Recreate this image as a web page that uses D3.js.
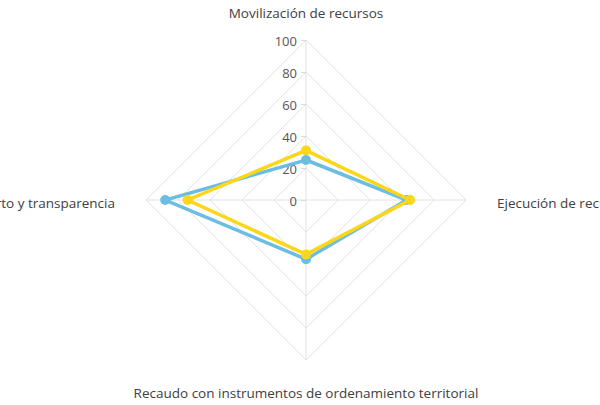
<!DOCTYPE html>
<html>
<head>
<meta charset="utf-8">
<script src="https://cdn.jsdelivr.net/npm/d3@7"></script>
<style>
  html, body { margin: 0; padding: 0; background: #fff; }
  svg { display: block; }
  text { font-family: "Open Sans", "DejaVu Sans", sans-serif; }
</style>
</head>
<body>
<svg id="chart" width="600" height="405"></svg>
<script>
// Radar chart: four dimensions, two series
const axes = [
  "Movilización de recursos",
  "Ejecución de recursos",
  "Recaudo con instrumentos de ordenamiento territorial",
  "Gobierno abierto y transparencia"
];
const seriesBlue = [25, 63, 37, 88];
const seriesYellow = [31, 65, 34, 74];
const tickValues = [0, 20, 40, 60, 80, 100];

const svg = d3.select("#chart");
const cx = 306, cy = 200, radius = 160;

const r = d3.scaleLinear().domain([0, 100]).range([0, radius]);
const angle = d3.scaleLinear().domain([0, axes.length]).range([0, 2 * Math.PI]);

function pt(i, v) {
  const a = angle(i);
  return [cx + r(v) * Math.sin(a), cy - r(v) * Math.cos(a)];
}

const g = svg.append("g");

// grid rings
tickValues.filter(t => t > 0).forEach(t => {
  g.append("path")
    .attr("d", d3.line()(axes.map((_, i) => pt(i, t))) + "Z")
    .attr("fill", "none")
    .attr("stroke", "#e2e2e2")
    .attr("stroke-width", 1);
});

// spokes
axes.forEach((_, i) => {
  const [x, y] = pt(i, 100);
  g.append("line")
    .attr("x1", cx).attr("y1", cy).attr("x2", x).attr("y2", y)
    .attr("stroke", "#e2e2e2").attr("stroke-width", 1);
});

// value axis along the top spoke
const yAxis = d3.scaleLinear().domain([0, 100]).range([cy, cy - radius]);
const axisG = g.append("g")
  .attr("transform", `translate(${cx},0)`)
  .call(d3.axisLeft(yAxis).tickValues(tickValues).tickSize(5).tickPadding(4));
axisG.select(".domain").remove();
axisG.selectAll(".tick line").attr("stroke", "#d9d9d9");
axisG.selectAll(".tick text")
  .attr("fill", "#555")
  .attr("font-size", 13)
  .attr("dy", "0.45em")
  .attr("font-family", "Open Sans, DejaVu Sans, sans-serif");

// axis labels
const labelPos = [
  { x: cx, y: 18, anchor: "middle" },
  { x: 497, y: 208, anchor: "start" },
  { x: cx, y: 398, anchor: "middle" },
  { x: 115, y: 208, anchor: "end" }
];
axes.forEach((name, i) => {
  g.append("text")
    .attr("x", labelPos[i].x).attr("y", labelPos[i].y)
    .attr("text-anchor", labelPos[i].anchor)
    .attr("font-size", 13.5)
    .attr("fill", "#404040")
    .text(name);
});

// series
function drawSeries(values, color) {
  const pts = values.map((v, i) => pt(i, v));
  g.append("path")
    .attr("d", d3.line()(pts) + "Z")
    .attr("fill", "none")
    .attr("stroke", color)
    .attr("stroke-width", 3.5)
    .attr("stroke-linejoin", "miter");
  g.selectAll(null).data(pts).enter().append("circle")
    .attr("cx", d => d[0]).attr("cy", d => d[1])
    .attr("r", 5)
    .attr("fill", color);
}
drawSeries(seriesBlue, "#6cbde3");
drawSeries(seriesYellow, "#fdd618");
</script>
</body>
</html>
